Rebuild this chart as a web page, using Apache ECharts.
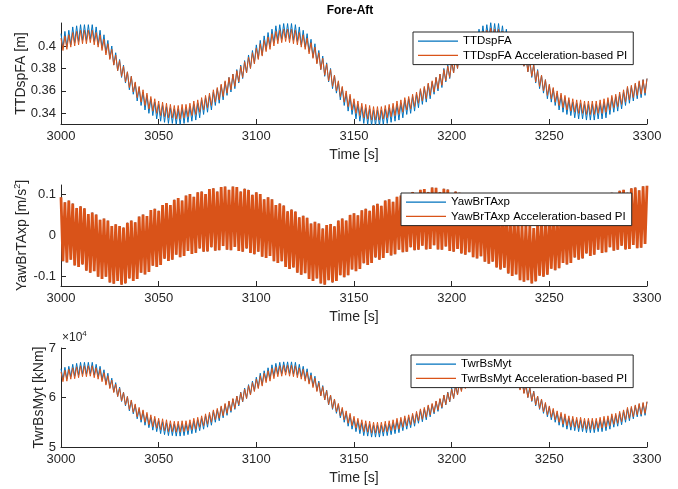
<!DOCTYPE html>
<html>
<head>
<meta charset="utf-8">
<script src="https://cdn.jsdelivr.net/npm/echarts@6/dist/echarts.min.js"></script>
<style>
  html, body { margin: 0; padding: 0; background: #ffffff; }
  #chart { width: 678px; height: 489px; }
</style>
</head>
<body>
<div id="chart"></div>
<script>
// ---------------- DATA ----------------
// Sample times: one sample per second from 3000 s to 3300 s
const T0 = 3000;
const DT = 1;

// x tick labels (Time [s])
const timeTicks = [3000, 3050, 3100, 3150, 3200, 3250, 3300];
// y tick labels
const ttdTicks = [0.34, 0.36, 0.38, 0.40];
const yawTicks = [-0.1, 0, 0.1];
const twrTicks = [50000, 60000, 70000];

// Legend / series names
const ttdNames = ['TTDspFA', 'TTDspFA Acceleration-based PI'];
const yawNames = ['YawBrTAxp', 'YawBrTAxp Acceleration-based PI'];
const twrNames = ['TwrBsMyt', 'TwrBsMyt Acceleration-based PI'];

// TTDspFA baseline [mm]
const ttdBase_mm = [
411,398,413,399,414,401,417,403,418,404,
419,405,419,405,419,406,419,404,417,401,
414,398,410,394,405,389,400,383,394,378,
388,372,383,367,377,361,373,357,367,351,
363,347,359,343,356,340,353,338,350,335,
348,333,347,332,346,331,345,331,344,330,
344,330,345,331,345,332,346,333,348,334,
349,336,352,339,354,341,356,343,359,347,
362,349,365,352,368,356,372,359,375,362,
379,367,383,371,387,376,392,380,396,385,
401,389,405,392,409,397,412,399,415,403,
418,405,419,406,420,407,420,406,420,405,
419,404,417,401,414,399,411,395,406,390,
402,385,396,379,391,373,385,368,380,362,
374,358,368,352,363,347,358,342,355,339,
350,335,348,333,346,331,345,330,344,329,
343,329,343,329,343,330,344,331,345,332,
346,333,348,334,349,336,352,339,353,340,
355,342,357,345,361,348,363,350,366,353,
368,357,372,360,375,363,380,368,383,371,
387,376,392,380,396,385,401,389,404,392,
409,396,412,399,415,403,418,404,419,406,
421,406,420,406,420,405,418,403,415,399,
412,396,408,391,403,387,399,382,393,377,
388,372,384,367,379,362,374,358,370,353,
365,350,362,347,358,343,356,341,354,339,
352,338,350,336,349,335,349,335,348,334,
348,334,348,334,348,335,349,335,350,336,
352,339,354,341,355,342,357,344,359,347,
363,349,364,351,366,353,368,354,370,356,
371];

// TTDspFA Acceleration-based PI [mm]
const ttdPI_mm = [
407,396,409,397,410,399,412,400,413,401,
414,402,414,402,414,403,414,401,412,399,
410,396,406,392,402,388,397,383,392,378,
387,373,382,368,377,363,373,359,368,354,
364,350,361,347,358,344,355,342,353,340,
351,338,350,337,349,336,348,336,347,335,
347,335,348,336,348,337,349,338,351,339,
352,341,354,343,356,345,358,347,361,350,
363,352,366,355,369,358,372,361,375,364,
378,368,382,372,386,376,390,380,394,384,
398,388,402,391,405,395,408,397,411,400,
413,402,414,403,415,404,415,403,415,402,
414,401,412,399,410,397,407,393,403,389,
399,384,394,379,389,374,384,369,379,364,
374,360,369,355,364,350,360,346,357,343,
353,340,351,338,349,336,348,335,347,334,
346,334,346,334,346,335,347,336,348,337,
349,338,351,339,352,341,354,343,355,344,
357,346,359,349,362,351,364,353,367,356,
369,359,372,362,375,365,379,369,382,372,
386,376,390,380,394,384,398,388,401,391,
405,394,408,397,411,400,413,401,414,403,
416,403,415,403,415,402,413,400,411,397,
408,394,404,390,400,386,396,382,391,377,
387,373,383,368,378,364,374,360,370,356,
366,353,363,350,360,347,358,345,356,343,
354,342,353,341,352,340,352,340,351,339,
351,339,351,339,351,340,352,340,353,341,
354,343,356,345,357,346,359,348,361,350,
364,352,365,354,367,356,369,357,370,358,
371];

// YawBrTAxp Acceleration-based PI [mm/s^2]
const yawPI_mm = [
92,-64,80,-67,84,-60,77,-74,66,-78,
70,-72,65,-87,51,-92,55,-88,50,-102,
37,-107,40,-102,35,-116,22,-119,26,-112,
22,-121,18,-118,30,-106,35,-112,31,-107,
45,-92,50,-96,46,-90,61,-75,64,-78,
59,-73,73,-58,78,-63,73,-60,86,-48,
90,-54,84,-51,96,-39,100,-46,93,-44,
104,-33,106,-41,100,-40,112,-30,114,-38,
106,-37,117,-27,118,-36,110,-37,118,-29,
117,-39,106,-41,113,-33,110,-44,98,-47,
104,-41,100,-53,87,-56,92,-51,87,-64,
73,-68,77,-64,72,-78,58,-83,62,-79,
57,-92,43,-97,47,-93,42,-107,28,-112,
32,-106,28,-118,16,-121,24,-110,27,-116,
21,-112,35,-98,40,-103,35,-98,49,-84,
53,-88,48,-83,60,-69,64,-73,59,-68,
72,-55,76,-60,71,-56,84,-44,87,-50,
81,-47,93,-36,96,-42,90,-41,102,-30,
105,-37,98,-36,110,-26,112,-35,105,-34,
116,-25,115,-35,105,-36,113,-28,111,-39,
100,-41,106,-34,103,-45,91,-48,97,-42,
94,-54,81,-57,86,-52,82,-65,68,-70,
73,-65,68,-79,54,-84,58,-80,53,-94,
39,-100,43,-96,38,-110,23,-114,27,-110,
22,-118,17,-113,31,-99,35,-102,31,-97,
45,-82,49,-86,44,-81,57,-68,60,-72,
54,-68,67,-55,71,-60,66,-57,79,-45,
83,-51,78,-48,90,-36,94,-44,88,-42,
100,-30,103,-38,97,-36,108,-26,110,-35,
103,-34,114,-24,116,-32,109,-31,119,-22,
120];
// The baseline YawBrTAxp trace is completely hidden under the PI trace in the
// reference, so its best estimate is the same visible trace.
const yawBase_mm = yawPI_mm;

// TwrBsMyt baseline [kNm]
const twrBase_kNm = [
65800,63600,66100,63700,66300,64200,66700,64300,66900,64500,
67100,64700,67100,64700,67100,64800,67100,64500,66700,64200,
66300,63600,65600,62800,64900,62000,63900,61100,63000,60200,
62100,59200,61100,58300,60200,57300,59400,56700,58500,55700,
57700,55000,57200,54400,56600,53900,56000,53400,55700,53100,
55300,52700,55100,52500,54900,52300,54700,52300,54600,52200,
54600,52200,54700,52300,54700,52500,54900,52700,55300,52900,
55500,53300,55800,53600,56300,54000,56600,54400,57200,55000,
57500,55300,58100,55900,58600,56400,59200,57000,59700,57600,
60300,58300,61100,59100,61900,59800,62600,60600,63300,61400,
64100,62000,64900,62600,65400,63400,66000,63700,66600,64300,
66900,64700,67100,64800,67200,65100,67200,64800,67200,64700,
67100,64500,66700,64200,66300,63700,65800,63000,65000,62300,
64300,61400,63300,60400,62400,59500,61500,58500,60500,57600,
59600,56800,58600,55900,57700,55000,56900,54200,56400,53600,
55700,53100,55300,52700,54900,52300,54700,52200,54600,52000,
54400,52000,54400,52000,54400,52200,54600,52300,54700,52500,
54900,52700,55300,52900,55500,53300,55800,53600,56000,53900,
56400,54200,56800,54800,57400,55100,57700,55500,58300,56100,
58600,56700,59200,57200,59700,57800,60500,58500,61100,59100,
61900,59800,62600,60600,63300,61400,64100,62000,64700,62600,
65400,63200,66000,63700,66600,64300,66900,64500,67100,64800,
67500,64800,67200,64800,67200,64700,66900,64300,66600,63700,
66000,63200,65200,62500,64400,61700,63800,60900,62800,60000,
62100,59200,61300,58300,60300,57600,59600,56800,58800,56100,
58100,55500,57500,55000,56900,54400,56600,54000,56300,53600,
55800,53400,55700,53300,55500,53100,55500,53100,55300,52900,
55300,52900,55300,52900,55300,53100,55500,53100,55700,53300,
55800,53600,56300,54000,56400,54200,56800,54500,57200,55000,
57700,55300,57900,55700,58300,56100,58600,56200,58800,56400,
59100];

// TwrBsMyt Acceleration-based PI [kNm]
const twrPI_kNm = [
65200,63200,65500,63300,65700,63700,66000,63800,66200,64000,
66400,64200,66400,64200,66400,64300,66400,64000,66000,63700,
65700,63200,65000,62500,64400,61800,63500,61000,62700,60200,
61900,59300,61000,58500,60200,57600,59500,57000,58700,56100,
58000,55500,57500,55000,57000,54500,56500,54100,56200,53800,
55800,53500,55700,53300,55500,53100,55300,53100,55200,53000,
55200,53000,55300,53100,55300,53300,55500,53500,55800,53600,
56000,54000,56300,54300,56700,54600,57000,55000,57500,55500,
57800,55800,58300,56300,58800,56800,59300,57300,59800,57800,
60300,58500,61000,59200,61700,59800,62400,60500,63000,61200,
63700,61800,64400,62300,64900,63000,65400,63300,65900,63800,
66200,64200,66400,64300,66500,64500,66500,64300,66500,64200,
66400,64000,66000,63700,65700,63300,65200,62700,64500,62000,
63900,61200,63000,60300,62200,59500,61400,58600,60500,57800,
59700,57100,58800,56300,58000,55500,57300,54800,56800,54300,
56200,53800,55800,53500,55500,53100,55300,53000,55200,52800,
55000,52800,55000,52800,55000,53000,55200,53100,55300,53300,
55500,53500,55800,53600,56000,54000,56300,54300,56500,54500,
56800,54800,57200,55300,57700,55600,58000,56000,58500,56500,
58800,57000,59300,57500,59800,58000,60500,58600,61000,59200,
61700,59800,62400,60500,63000,61200,63700,61800,64200,62300,
64900,62800,65400,63300,65900,63800,66200,64000,66400,64300,
66700,64300,66500,64300,66500,64200,66200,63800,65900,63300,
65400,62800,64700,62200,64000,61500,63400,60800,62500,60000,
61900,59300,61200,58500,60300,57800,59700,57100,59000,56500,
58300,56000,57800,55500,57300,55000,57000,54600,56700,54300,
56300,54100,56200,54000,56000,53800,56000,53800,55800,53600,
55800,53600,55800,53600,55800,53800,56000,53800,56200,54000,
56300,54300,56700,54600,56800,54800,57200,55100,57500,55500,
58000,55800,58200,56100,58500,56500,58800,56600,59000,56800,
59200];

// ---------------- CHART ----------------
const FONT = '"Liberation Sans", Arial, Helvetica, sans-serif';
const AX = '#262626';
const BLUE = '#0072BD';
const ORANGE = '#D95319';

function pairs(values, scale) {
  return values.map((v, i) => [T0 + i * DT, v * scale]);
}

const grids = [
  { left: 61, right: 31, top: 23, height: 101 },
  { left: 61, right: 31, top: 185, height: 101 },
  { left: 61, right: 31, top: 348, height: 99 }
];

function makeX(gi) {
  return {
    type: 'value', gridIndex: gi,
    min: timeTicks[0], max: timeTicks[timeTicks.length - 1], interval: 50,
    name: 'Time [s]', nameLocation: 'middle', nameGap: 24, nameMoveOverlap: false,
    nameTextStyle: { color: AX, fontSize: 14, fontFamily: FONT },
    axisLine: { show: true, onZero: false, lineStyle: { color: AX, width: 1 } },
    axisTick: { show: true, inside: true, length: 5, lineStyle: { color: AX, width: 1 } },
    axisLabel: { color: AX, fontSize: 13, fontFamily: FONT, margin: 6, showMinLabel: true, showMaxLabel: true,
                 formatter: v => String(v) },
    splitLine: { show: false }
  };
}

function makeY(gi, min, max, ticks, name, nameGap, fmt, rich) {
  const ax = {
    type: 'value', gridIndex: gi, min: min, max: max,
    name: name, nameLocation: 'middle', nameGap: nameGap, nameRotate: 90, nameMoveOverlap: false,
    nameTextStyle: { color: AX, fontSize: 14, fontFamily: FONT },
    axisLine: { show: true, onZero: false, lineStyle: { color: AX, width: 1 } },
    axisTick: { show: true, inside: true, length: 5, customValues: ticks, lineStyle: { color: AX, width: 1 } },
    axisLabel: { customValues: ticks, color: AX, fontSize: 13, fontFamily: FONT, margin: 5, formatter: fmt },
    splitLine: { show: false }
  };
  if (rich) ax.nameTextStyle.rich = rich;
  return ax;
}

function lineSeries(name, xi, data, color, width, z) {
  return {
    type: 'line', name: name, xAxisIndex: xi, yAxisIndex: xi, data: data, z: z,
    showSymbol: false, symbol: 'none', smooth: false, animation: false, silent: true,
    lineStyle: { color: color, width: width }, itemStyle: { color: color },
    emphasis: { disabled: true }, clip: true
  };
}

function makeLegend(names, left, top) {
  return {
    data: names, left: left, top: top, orient: 'vertical',
    icon: 'rect', itemWidth: 40, itemHeight: 1.2, itemGap: 0, itemTextGap: 6,
    padding: [2, 6, 2, 5],
    backgroundColor: '#ffffff', borderColor: AX, borderWidth: 1, borderRadius: 0,
    selectedMode: false,
    textStyle: { color: '#000000', fontSize: 11.5, fontFamily: FONT, lineHeight: 14.3, height: 14.3 }
  };
}

const supRich = {
  a: { fontSize: 14, fontFamily: FONT, color: AX, lineHeight: 18 },
  b: { fontSize: 9, fontFamily: FONT, color: AX, verticalAlign: 'top', lineHeight: 18 }
};

const option = {
  animation: false,
  backgroundColor: '#ffffff',
  grid: grids,
  xAxis: [makeX(0), makeX(1), makeX(2)],
  yAxis: [
    makeY(0, 0.3305, 0.4205, ttdTicks, 'TTDspFA [m]', 33, v => String(+v.toFixed(2))),
    makeY(1, -0.1244, 0.1220, yawTicks, '{a|YawBrTAxp [m/s}{b|2}{a|]}', 30, v => String(+v.toFixed(1)), supRich),
    makeY(2, 50000, 70000, twrTicks, 'TwrBsMyt [kNm]', 15, v => String(v / 10000))
  ],
  legend: [
    makeLegend(ttdNames, 413, 32),
    makeLegend(yawNames, 401, 193),
    makeLegend(twrNames, 411, 355)
  ],
  graphic: [
    { type: 'text', x: 350, y: 11, z: 10,
      style: { text: 'Fore-Aft', font: 'bold 12px ' + FONT, fill: '#000000', align: 'center', verticalAlign: 'middle' } },
    { type: 'text', x: 62, y: 338, z: 10,
      style: { text: '{a|×10}{b|4}', verticalAlign: 'middle',
        rich: { a: { fontSize: 12, fontFamily: FONT, fill: AX, lineHeight: 16 },
                b: { fontSize: 8, fontFamily: FONT, fill: AX, verticalAlign: 'top', lineHeight: 16 } } } }
  ],
  series: [
    lineSeries(ttdNames[0], 0, pairs(ttdBase_mm, 0.001), BLUE, 1, 2),
    lineSeries(ttdNames[1], 0, pairs(ttdPI_mm, 0.001), ORANGE, 1, 3),
    lineSeries(yawNames[0], 1, pairs(yawBase_mm, 0.001), BLUE, 0.8, 2),
    lineSeries(yawNames[1], 1, pairs(yawPI_mm, 0.001), ORANGE, 2.8, 3),
    lineSeries(twrNames[0], 2, pairs(twrBase_kNm, 1), BLUE, 1, 2),
    lineSeries(twrNames[1], 2, pairs(twrPI_kNm, 1), ORANGE, 1, 3)
  ]
};

const chart = echarts.init(document.getElementById('chart'), null, { renderer: 'canvas', width: 678, height: 489 });
chart.setOption(option);
</script>
</body>
</html>
